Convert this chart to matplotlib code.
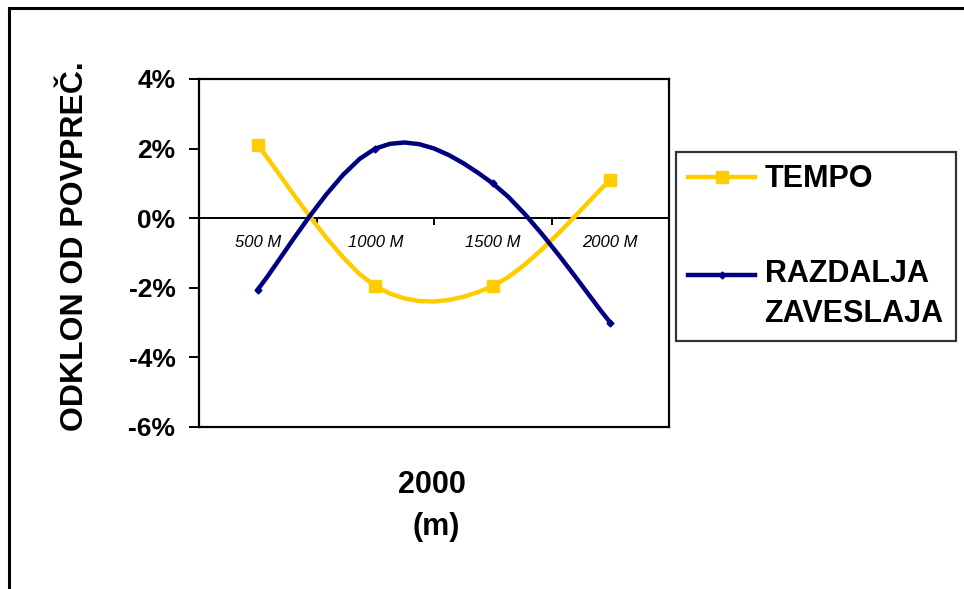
import numpy as np
import matplotlib
matplotlib.use('Agg')
import matplotlib.pyplot as plt
from matplotlib.lines import Line2D
from matplotlib.legend_handler import HandlerLine2D
from matplotlib.ticker import FixedLocator, FuncFormatter

plt.rcParams['font.family'] = ['Liberation Sans', 'DejaVu Sans']

# Split distances and deviation from the race average (%)
categories = ['500 M', '1000 M', '1500 M', '2000 M']
tempo = [2.1, -1.95, -1.95, 1.1]
razdalja = [-2.05, 2.0, 1.0, -3.0]
series_names = ['TEMPO', 'RAZDALJA\nZAVESLAJA']
y_ticks = [-6, -4, -2, 0, 2, 4]

YELLOW = '#FFCC00'
NAVY = '#000080'


def smooth(xs, ys, steps=8):
    '''Bezier smoothing through the points, like a spreadsheet "smoothed line".'''
    p = np.column_stack([xs, ys]).astype(float)
    p_ext = np.vstack([p[0], p, p[-1]])
    out = [p[0]]
    t = np.linspace(0, 1, steps + 1)[1:, None]
    for i in range(len(p) - 1):
        p0, p1, p2, p3 = p_ext[i], p_ext[i + 1], p_ext[i + 2], p_ext[i + 3]
        c1 = p1 + (p2 - p0) / 6.
        c2 = p2 - (p3 - p1) / 6.
        seg = ((1 - t) ** 3) * p1 + 3 * ((1 - t) ** 2) * t * c1 \
            + 3 * (1 - t) * t ** 2 * c2 + t ** 3 * p2
        out.extend(seg)
    out = np.array(out)
    return out[:, 0], out[:, 1]


class FirstLineHandler(HandlerLine2D):
    '''Put the legend line next to the first row of a two-row label.'''
    def __init__(self, shift=0., **kw):
        super().__init__(**kw)
        self.shift = shift

    def create_artists(self, legend, orig_handle, xdescent, ydescent,
                       width, height, fontsize, trans):
        arts = super().create_artists(legend, orig_handle, xdescent, ydescent,
                                      width, height, fontsize, trans)
        for a in arts:
            a.set_ydata(np.asarray(a.get_ydata()) + self.shift * fontsize)
        return arts


fig = plt.figure(figsize=(9.64, 5.89), dpi=100)
ax = fig.add_axes([199 / 964, 1 - 427 / 589, 470 / 964, 348 / 589])

x = np.arange(len(categories))

xs, ys = smooth(x, tempo)
ax.plot(xs, ys, color=YELLOW, lw=3.2, solid_joinstyle='round', zorder=3)
ax.plot(x, tempo, ls='none', marker='s', ms=8.5, color=YELLOW, zorder=4)

xs, ys = smooth(x, razdalja)
ax.plot(xs, ys, color=NAVY, lw=3.2, solid_joinstyle='round', zorder=3)
ax.plot(x, razdalja, ls='none', marker='D', ms=3.5, color=NAVY, zorder=4)

ax.set_xlim(-0.5, len(categories) - 0.5)
ax.set_ylim(-6, 4)

# frame around the plot area
for s in ['top', 'left', 'right']:
    ax.spines[s].set_linewidth(1.6)
ax.axhline(-6, color='black', lw=1.6, clip_on=False, zorder=5)

# category axis crosses at zero
ax.spines['bottom'].set_position(('data', 0))
ax.spines['bottom'].set_linewidth(1.4)
ax.xaxis.set_major_locator(FixedLocator(x[:-1] + 0.5))
ax.xaxis.set_minor_locator(FixedLocator(x))
ax.xaxis.set_major_formatter(FuncFormatter(lambda v, p: ''))
ax.xaxis.set_minor_formatter(FuncFormatter(lambda v, p: categories[int(round(v))]))
ax.tick_params(axis='x', which='major', direction='out', length=5, width=1.4)
ax.tick_params(axis='x', which='minor', length=0, pad=12)
for lab in ax.xaxis.get_minorticklabels():
    lab.set_fontsize(12)
    lab.set_fontstyle('italic')

ax.set_yticks(y_ticks)
ax.yaxis.set_major_formatter(FuncFormatter(lambda v, p: f'{v:.0f}%'))
ax.tick_params(axis='y', direction='out', length=7, width=1.4, pad=10,
               labelsize=19)
for lab in ax.get_yticklabels():
    lab.set_fontweight('bold')

fig.text(75 / 964, 1 - 246 / 589, 'ODKLON OD POVPREČ.', rotation=90,
         ha='center', va='center', fontsize=23, fontweight='bold')
fig.text(432 / 964, 1 - 485 / 589, '2000', ha='center', va='center',
         fontsize=22, fontweight='bold')
fig.text(436 / 964, 1 - 527 / 589, '(m)', ha='center', va='center',
         fontsize=22, fontweight='bold')

h_tempo = Line2D([], [], color=YELLOW, lw=3.2, marker='s', ms=8.5)
h_razd = Line2D([], [], color=NAVY, lw=3.2, marker='D', ms=3.5)
leg = ax.legend([h_tempo, h_razd], series_names,
                loc='upper left', bbox_to_anchor=(676 / 964, 1 - 152 / 589),
                bbox_transform=fig.transFigure, borderaxespad=0,
                frameon=True, fancybox=False, edgecolor='black',
                prop={'size': 22, 'weight': 'bold'}, numpoints=1,
                handlelength=2.2, handletextpad=0.3, labelspacing=2.13,
                borderpad=0.4,
                handler_map={h_razd: FirstLineHandler(shift=0.66)})
leg.get_texts()[1].set_linespacing(1.41)
leg.get_frame().set_linewidth(1.6)

# outer chart border (runs off the right and bottom edges)
fig.add_artist(Line2D([8.5 / 964, 1.0], [1 - 7.5 / 589] * 2, color='black', lw=2.2))
fig.add_artist(Line2D([8.5 / 964] * 2, [0.0, 1 - 7.5 / 589], color='black', lw=2.2))

fig.savefig('out.png', dpi=100)
